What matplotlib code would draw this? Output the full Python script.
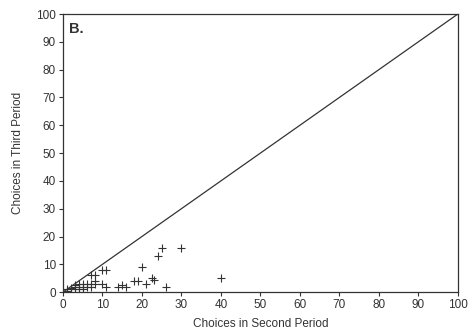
import matplotlib
matplotlib.use('Agg')
import matplotlib.pyplot as plt

plt.rcParams['font.family'] = ['Liberation Sans', 'DejaVu Sans']

# 第二期 / 第三期 选择次数
second = [1, 1, 2, 2, 3, 3, 3, 4, 4, 4, 5, 5, 5, 6, 6, 7, 7, 8, 8, 7, 8,
          10, 11, 10, 11, 14, 15, 16, 18, 19, 20, 21, 22.5, 23, 24, 25, 26, 30, 40]
third = [1, 0.5, 1.5, 1, 2, 1, 2.5, 2, 1, 3, 2, 1, 3, 2, 3, 3, 2, 3, 4, 6, 6,
         8, 8, 3, 2, 2, 2.5, 2, 4, 4, 9, 3, 5, 4.5, 13, 16, 2, 16, 5]

# 对角线 y = x
diag = [0, 100]

fig = plt.figure(figsize=(4.7, 3.35), dpi=100)
ax = fig.add_axes([0.134, 0.128, 0.84, 0.83])

ax.plot(diag, diag, color='#333333', linewidth=0.9)
ax.plot(second, third, linestyle='none', marker='+', markersize=5.5,
        markeredgewidth=0.8, color='#333333')

ax.set_xlim(0, 100)
ax.set_ylim(0, 100)
ax.set_xticks(range(0, 101, 10))
ax.set_yticks(range(0, 101, 10))
ax.tick_params(labelsize=8.5, length=3, width=0.8, colors='#333333', pad=2)
for s in ax.spines.values():
    s.set_color('#333333')
    s.set_linewidth(0.9)

ax.text(1.5, 97, 'B.', fontsize=10.5, fontweight='bold', va='top', color='#333333')
ax.set_xlabel('Choices in Second Period', fontsize=8.5, color='#333333', labelpad=5)
ax.set_ylabel('Choices in Third Period', fontsize=8.5, color='#333333', labelpad=9)

plt.savefig('out.png')
